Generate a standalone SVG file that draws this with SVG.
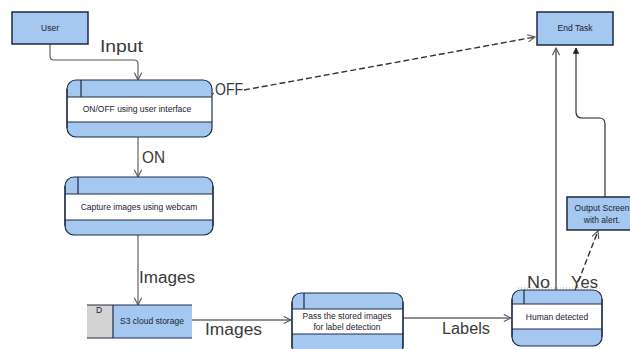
<svg xmlns="http://www.w3.org/2000/svg" width="630" height="349" viewBox="0 0 630 349">
  <defs>
    <marker id="open-arrow" viewBox="0 0 10 10" refX="9" refY="5" markerWidth="9" markerHeight="9" orient="auto" markerUnits="userSpaceOnUse">
      <path d="M1,1 L9,5 L1,9" fill="none" stroke="#555" stroke-width="1.2"/>
    </marker>
    <marker id="solid-arrow" viewBox="0 0 10 10" refX="9" refY="5" markerWidth="7" markerHeight="7" orient="auto" markerUnits="userSpaceOnUse">
      <path d="M1,1 L9,5 L1,9 Z" fill="#222" stroke="#222" stroke-width="1"/>
    </marker>
    <style>
      .ent { fill: #a4c8f0; stroke: #1f2a44; stroke-width: 1.5; }
      .proc { fill: #a4c8f0; stroke: #1f2a44; stroke-width: 1.2; }
      .band { fill: #ffffff; stroke: none; }
      .sep { stroke: #1f2a44; stroke-width: 1.2; fill: none; }
      .lbl { font-family: "Liberation Sans", Arial, sans-serif; font-size: 8.5px; fill: #1c2230; text-anchor: middle; }
      .elbl { font-family: "Liberation Sans", Arial, sans-serif; font-size: 16px; fill: #3a3a3a; }
      .flow { fill: none; stroke: #555; stroke-width: 1.1; marker-end: url(#open-arrow); }
      .dark { stroke: #222; }
      .dash { stroke-dasharray: 6 3; stroke: #333; stroke-width: 1.4; }
    </style>
  </defs>

  <rect width="630" height="349" fill="#ffffff"/>

  <!-- connectors -->
  <g id="connectors">
    <path class="flow" d="M50,44 V56 Q50,60 54,60 H134 Q138,60 138,64 V80"/>
    <path d="M210,96 L214,93" fill="none" stroke="#333" stroke-width="1"/>
    <path class="flow dash" d="M244,90 L535,37"/>
    <path class="flow" d="M138,137 V177"/>
    <path class="flow" stroke="#888" d="M138,235 V305"/>
    <path class="flow dark" d="M192,320 H291"/>
    <path class="flow dark" d="M403,318 H511"/>
    <path class="flow dark" d="M556,290 V48"/>
    <path class="flow dash" stroke-width="1.1" d="M575,290 L598,231"/>
    <path d="M605,197 V124 Q605,118 599,118 H582 Q576,118 576,112 V48" fill="none" stroke="#222" stroke-width="1.1" marker-end="url(#solid-arrow)"/>
    <path d="M518,288 H600" fill="none" stroke="#999" stroke-width="0.8" stroke-dasharray="1 2"/>
    <path d="M570,44 H582" fill="none" stroke="#999" stroke-width="0.8" stroke-dasharray="1 2"/>
  </g>

  <!-- connector labels -->
  <g id="connector-labels">
    <text class="elbl" x="100" y="52" textLength="43" lengthAdjust="spacingAndGlyphs">Input</text>
    <text class="elbl" x="215" y="95" textLength="28" lengthAdjust="spacingAndGlyphs">OFF</text>
    <text class="elbl" x="142" y="163" textLength="23" lengthAdjust="spacingAndGlyphs">ON</text>
    <text class="elbl" x="139" y="283" textLength="56" lengthAdjust="spacingAndGlyphs">Images</text>
    <text class="elbl" x="205" y="335" textLength="57" lengthAdjust="spacingAndGlyphs">Images</text>
    <text class="elbl" x="442" y="334" textLength="48" lengthAdjust="spacingAndGlyphs">Labels</text>
    <text class="elbl" x="527" y="288" textLength="23" lengthAdjust="spacingAndGlyphs">No</text>
    <text class="elbl" x="571" y="288" textLength="27" lengthAdjust="spacingAndGlyphs">Yes</text>
  </g>

  <!-- external entity: User -->
  <g id="user">
    <rect class="ent" x="12" y="12" width="76" height="32"/>
    <text class="lbl" x="50" y="31">User</text>
  </g>

  <!-- external entity: End Task -->
  <g id="end-task">
    <rect class="ent" x="537" y="12" width="76" height="33"/>
    <text class="lbl" x="575" y="31">End Task</text>
  </g>

  <!-- output screen -->
  <g id="output-screen">
    <rect class="ent" x="567" y="197" width="70" height="33"/>
    <text class="lbl" x="602" y="211">Output Screen</text>
    <text class="lbl" x="602" y="223">with alert.</text>
  </g>

  <!-- process: ON/OFF -->
  <g id="onoff">
    <rect class="proc" x="67" y="80" width="145" height="57" rx="9"/>
    <rect class="band" x="67.8" y="97" width="143.4" height="25"/>
    <path class="sep" d="M67,97 H212 M67,122 H212 M81,80 V97"/>
    <path class="sep" d="M67,89 V128"/>
    <text class="lbl" x="137" y="112">ON/OFF using user interface</text>
  </g>

  <!-- process: capture -->
  <g id="capture">
    <rect class="proc" x="65" y="177" width="148" height="58" rx="9"/>
    <rect class="band" x="65.8" y="194" width="146.4" height="26"/>
    <path class="sep" d="M65,194 H213 M65,220 H213 M78,177 V194"/>
    <path class="sep" d="M65,186 V226 M213,186 V226" stroke-width="1"/>
    <text class="lbl" x="139" y="210">Capture images using webcam</text>
  </g>

  <!-- data store: S3 -->
  <g id="s3-storage">
    <rect x="87" y="305" width="26" height="33" fill="#d3d3d3"/>
    <rect x="113" y="305" width="79" height="33" fill="#a4c8f0"/>
    <path class="sep" d="M87,305 H192 M87,338 H192 M113,305 V338"/>
    <text class="lbl" x="99" y="313" font-size="7.5">D</text>
    <text class="lbl" x="152" y="324">S3 cloud storage</text>
  </g>

  <!-- process: label detection -->
  <g id="label-detection">
    <rect class="proc" x="292" y="293" width="111" height="62" rx="9"/>
    <rect class="band" x="292.8" y="309" width="109.4" height="25"/>
    <path class="sep" d="M292,309 H403 M292,334 H403 M304,293 V309"/>
    <path class="sep" d="M292,302 V348 M403,302 V348" stroke-width="1"/>
    <text class="lbl" x="347" y="319">Pass the stored images</text>
    <text class="lbl" x="347" y="330">for label detection</text>
  </g>

  <!-- process: human detected -->
  <g id="human-detected">
    <rect class="proc" x="512" y="290" width="90" height="56" rx="9"/>
    <rect class="band" x="512.8" y="304" width="88.4" height="25"/>
    <path class="sep" d="M512,304 H602 M512,329 H602 M524,290 V304"/>
    <path class="sep" d="M512,299 V337 M602,299 V337" stroke-width="1"/>
    <text class="lbl" x="557" y="320">Human detected</text>
  </g>
</svg>
